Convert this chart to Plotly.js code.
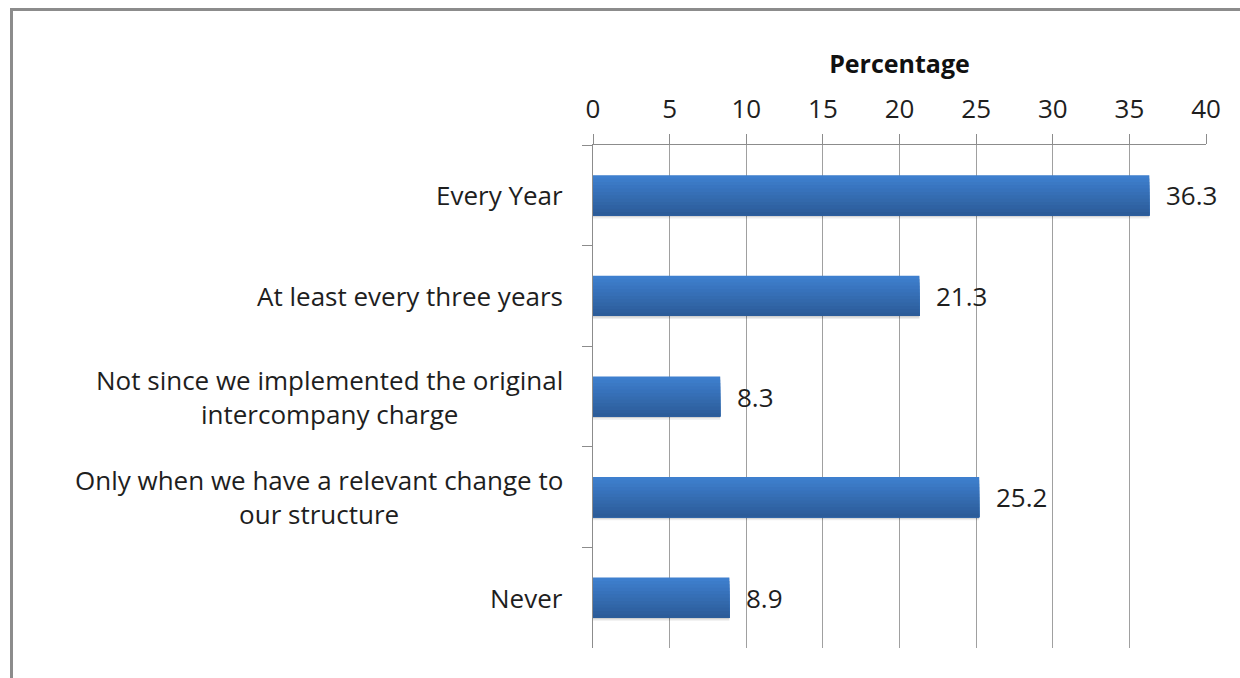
<!DOCTYPE html>
<html>
<head>
<meta charset="utf-8">
<script src="https://cdn.plot.ly/plotly-3.0.1.min.js"></script>
<style>
  html, body { margin: 0; padding: 0; background: #ffffff; }
  #wrap { position: relative; width: 1240px; height: 678px; overflow: hidden; }
  #chart { width: 1240px; height: 678px; }
  #frame { position: absolute; left: 10px; top: 8px; right: -5px; bottom: -5px;
           border-left: 3px solid #8c8c8c; border-top: 3px solid #8c8c8c; pointer-events: none; }
</style>
</head>
<body>
<div id="wrap">
  <div id="chart"></div>
  <div id="frame"></div>
</div>
<script>
// ---- data ----
const categories = [
  "Every Year",
  "At least every three years",
  "Not since we implemented the original<br>intercompany charge",
  "Only when we have a relevant change to<br>our structure",
  "Never"
];
const percentages = [36.3, 21.3, 8.3, 25.2, 8.9];
const axisTitle = "Percentage";
const tickValues = [0, 5, 10, 15, 20, 25, 30, 35, 40];

// ---- styling ----
const FONT = "Open Sans, Noto Sans, sans-serif";
const FSIZE = 26;
const TXT = "#1e1e1e";
const barW = 0.4;
const topColor = [62, 127, 206];
const botColor = [44, 92, 153];
const N = 12;

const traces = [];
// soft shadow beneath bars
traces.push({
  type: "bar", orientation: "h", x: percentages, y: categories,
  offset: -barW / 2 + 0.012, width: barW + 0.018,
  marker: { color: "rgba(0,0,0,0.07)", line: { width: 0 } },
  hoverinfo: "skip", showlegend: false
});
traces.push({
  type: "bar", orientation: "h", x: percentages, y: categories,
  offset: -barW / 2 + 0.006, width: barW + 0.008,
  marker: { color: "rgba(0,0,0,0.12)", line: { width: 0 } },
  hoverinfo: "skip", showlegend: false
});
// gradient stripes (top light -> bottom dark)
for (let i = 0; i < N; i++) {
  const t = i / (N - 1);
  const c = topColor.map((v, k) => Math.round(v + (botColor[k] - v) * t));
  traces.push({
    type: "bar", orientation: "h", x: percentages, y: categories,
    offset: -barW / 2 + i * barW / N, width: barW - i * barW / N,
    marker: { color: `rgb(${c[0]},${c[1]},${c[2]})`, line: { width: 0 } },
    hoverinfo: "x", showlegend: false
  });
}

const annotations = [];
// category labels (centred multi-line, right-anchored)
categories.forEach((c) => {
  annotations.push({
    xref: "paper", yref: "y", x: 0, y: c, xanchor: "right", yanchor: "middle",
    xshift: -28, align: "center", showarrow: false, text: c,
    font: { family: FONT, size: FSIZE, color: TXT }
  });
});
// data labels
percentages.forEach((v, i) => {
  annotations.push({
    xref: "x", yref: "y", x: v, y: categories[i], xanchor: "left", yanchor: "middle",
    xshift: 15, showarrow: false, text: v.toFixed(1),
    font: { family: FONT, size: FSIZE, color: TXT }
  });
});

const layout = {
  width: 1240, height: 678,
  margin: { l: 593, r: 34, t: 145, b: 30, pad: 0 },
  paper_bgcolor: "#ffffff", plot_bgcolor: "#ffffff",
  barmode: "overlay",
  showlegend: false,
  font: { family: FONT, size: FSIZE, color: TXT },
  xaxis: {
    side: "top", range: [0, 40], tickvals: tickValues, ticktext: tickValues.map(String),
    showgrid: true, gridcolor: "#a0a0a0", gridwidth: 1,
    showline: true, linecolor: "#8c8c8c", linewidth: 1,
    ticks: "outside", ticklen: 10, tickcolor: "#8c8c8c", tickwidth: 1,
    zeroline: false, ticklabelstandoff: 6,
    tickfont: { family: FONT, size: FSIZE, color: TXT },
    title: { text: "<b>" + axisTitle + "</b>", standoff: 8,
             font: { family: FONT, size: 25, color: "#111111" } }
  },
  yaxis: {
    type: "category", categoryorder: "array", categoryarray: categories,
    range: [4.5, -0.5],
    showline: true, linecolor: "#8c8c8c", linewidth: 1,
    ticks: "outside", ticklen: 10, tickcolor: "#8c8c8c", tickwidth: 1,
    tickson: "boundaries", showticklabels: false, showgrid: false, zeroline: false
  },
  annotations: annotations
};

Plotly.newPlot("chart", traces, layout, { staticPlot: true, displayModeBar: false });
</script>
</body>
</html>
